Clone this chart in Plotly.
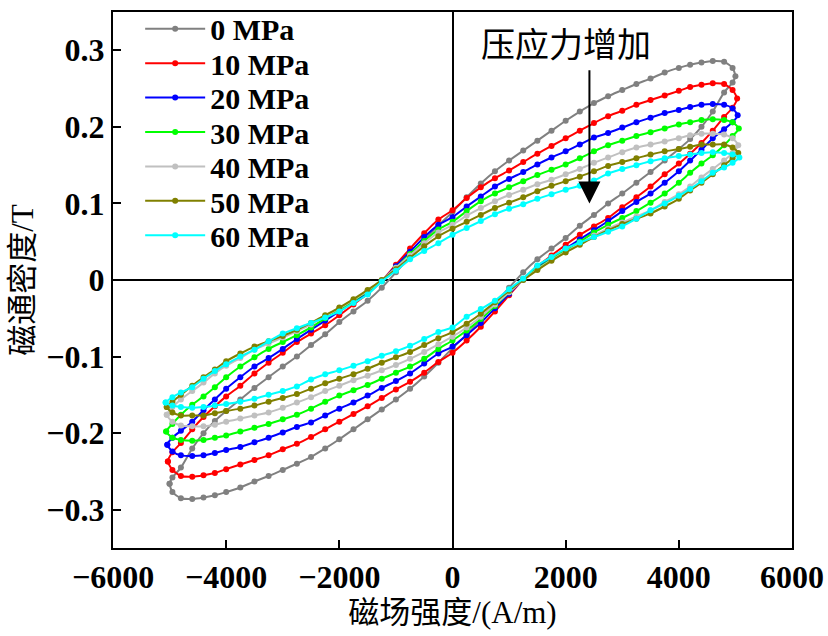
import plotly.graph_objects as go

# Field grid (A/m), shared by all loops (ascending)
H_grid = [-4950, -4800, -4600, -4400, -4200, -4000, -3750, -3500, -3250, -3000, -2750,
          -2500, -2250, -2000, -1750, -1500, -1250, -1000, -750, -500, -250, 0,
          250, 500, 750, 1000, 1250, 1500, 1750, 2000, 2250, 2500, 2750, 3000,
          3250, 3500, 3750, 4000, 4200, 4400, 4600, 4800, 4950]

labels = ["0 MPa", "10 MPa", "20 MPa", "30 MPa", "40 MPa", "50 MPa", "60 MPa"]
colors = ["#808080", "#FF0000", "#0000FF", "#00FF00", "#C0C0C0", "#808000", "#00FFFF"]

# tip field (A/m) and tip flux density (T) of each loop
H_tip = [5000, 5030, 5040, 5060, 5050, 5050, 5070]
B_tip = [0.266, 0.237, 0.215, 0.198, 0.176, 0.166, 0.160]

# lower (ascending-field) branch, on H_grid
B_lower_0 = [-0.277, -0.285, -0.286, -0.284, -0.281, -0.277, -0.271, -0.263, -0.256, -0.248, -0.240,
             -0.231, -0.220, -0.208, -0.195, -0.182, -0.169, -0.156, -0.142, -0.126, -0.108,
             -0.089, -0.071, -0.052, -0.031, -0.010, 0.010, 0.027, 0.041, 0.055, 0.071, 0.085,
             0.100, 0.113, 0.127, 0.141, 0.156, 0.171, 0.184, 0.200, 0.220, 0.245, 0.258]
B_lower_10 = [-0.248, -0.256, -0.257, -0.255, -0.252, -0.247, -0.241, -0.235, -0.229, -0.221, -0.214,
              -0.205, -0.195, -0.185, -0.175, -0.165, -0.154, -0.143, -0.133, -0.121, -0.107,
              -0.095, -0.079, -0.061, -0.041, -0.020, 0.001, 0.018, 0.032, 0.046, 0.059, 0.070,
              0.081, 0.095, 0.108, 0.122, 0.138, 0.152, 0.165, 0.179, 0.195, 0.213, 0.225]
B_lower_20 = [-0.224, -0.229, -0.230, -0.229, -0.226, -0.222, -0.218, -0.212, -0.206, -0.199, -0.192,
              -0.186, -0.177, -0.168, -0.160, -0.151, -0.141, -0.132, -0.122, -0.109, -0.096,
              -0.087, -0.072, -0.056, -0.037, -0.018, 0.001, 0.016, 0.029, 0.041, 0.053, 0.065,
              0.077, 0.090, 0.102, 0.113, 0.127, 0.142, 0.156, 0.170, 0.185, 0.197, 0.206]
B_lower_30 = [-0.206, -0.209, -0.210, -0.209, -0.206, -0.203, -0.198, -0.193, -0.188, -0.182, -0.176,
              -0.168, -0.159, -0.151, -0.144, -0.137, -0.129, -0.121, -0.113, -0.103, -0.090,
              -0.079, -0.066, -0.051, -0.034, -0.016, 0.001, 0.015, 0.027, 0.039, 0.050, 0.062,
              0.072, 0.081, 0.090, 0.101, 0.113, 0.127, 0.140, 0.152, 0.163, 0.176, 0.188]
B_lower_40 = [-0.185, -0.190, -0.191, -0.191, -0.189, -0.185, -0.181, -0.177, -0.173, -0.167, -0.160,
              -0.153, -0.145, -0.138, -0.131, -0.125, -0.118, -0.111, -0.103, -0.094, -0.084,
              -0.074, -0.062, -0.048, -0.032, -0.016, 0.000, 0.014, 0.026, 0.037, 0.047, 0.058,
              0.067, 0.075, 0.083, 0.091, 0.102, 0.112, 0.122, 0.134, 0.145, 0.156, 0.166]
B_lower_50 = [-0.173, -0.177, -0.177, -0.177, -0.174, -0.171, -0.168, -0.164, -0.159, -0.154, -0.149,
              -0.142, -0.135, -0.129, -0.123, -0.116, -0.108, -0.101, -0.094, -0.085, -0.076,
              -0.068, -0.057, -0.044, -0.029, -0.014, 0.000, 0.013, 0.025, 0.036, 0.046, 0.056,
              0.065, 0.073, 0.080, 0.087, 0.096, 0.106, 0.117, 0.127, 0.138, 0.150, 0.159]
B_lower_60 = [-0.164, -0.166, -0.167, -0.166, -0.164, -0.162, -0.159, -0.155, -0.150, -0.145, -0.139,
              -0.130, -0.123, -0.118, -0.112, -0.106, -0.099, -0.093, -0.086, -0.077, -0.068,
              -0.062, -0.048, -0.038, -0.027, -0.012, 0.002, 0.019, 0.030, 0.041, 0.049, 0.056,
              0.063, 0.070, 0.080, 0.091, 0.100, 0.110, 0.119, 0.129, 0.140, 0.147, 0.153]

# upper (descending-field) branch, on H_grid
B_upper_0 = [-0.258, -0.245, -0.220, -0.200, -0.184, -0.171, -0.156, -0.141, -0.127, -0.113, -0.100,
             -0.085, -0.071, -0.055, -0.041, -0.027, -0.010, 0.010, 0.031, 0.052, 0.071,
             0.089, 0.108, 0.126, 0.142, 0.156, 0.169, 0.182, 0.195, 0.208, 0.220, 0.231,
             0.240, 0.248, 0.256, 0.263, 0.271, 0.277, 0.281, 0.284, 0.286, 0.285, 0.277]
B_upper_10 = [-0.225, -0.213, -0.195, -0.179, -0.165, -0.152, -0.138, -0.122, -0.108, -0.095, -0.081,
              -0.070, -0.059, -0.046, -0.032, -0.018, -0.001, 0.020, 0.041, 0.061, 0.079,
              0.091, 0.107, 0.121, 0.133, 0.143, 0.154, 0.165, 0.175, 0.185, 0.195, 0.205,
              0.214, 0.221, 0.229, 0.235, 0.241, 0.247, 0.252, 0.255, 0.257, 0.256, 0.248]
B_upper_20 = [-0.206, -0.197, -0.185, -0.170, -0.156, -0.142, -0.127, -0.113, -0.102, -0.090, -0.077,
              -0.065, -0.053, -0.041, -0.029, -0.016, -0.001, 0.018, 0.037, 0.056, 0.072,
              0.082, 0.096, 0.109, 0.122, 0.132, 0.141, 0.151, 0.160, 0.168, 0.177, 0.186,
              0.192, 0.199, 0.206, 0.212, 0.218, 0.222, 0.226, 0.229, 0.230, 0.229, 0.224]
B_upper_30 = [-0.188, -0.176, -0.163, -0.152, -0.140, -0.127, -0.113, -0.101, -0.090, -0.081, -0.072,
              -0.062, -0.050, -0.039, -0.027, -0.015, -0.001, 0.016, 0.034, 0.051, 0.066,
              0.076, 0.090, 0.103, 0.113, 0.121, 0.129, 0.137, 0.144, 0.151, 0.159, 0.168,
              0.176, 0.182, 0.188, 0.193, 0.198, 0.203, 0.206, 0.209, 0.210, 0.209, 0.206]
B_upper_40 = [-0.166, -0.156, -0.145, -0.134, -0.122, -0.112, -0.102, -0.091, -0.083, -0.075, -0.067,
              -0.058, -0.047, -0.037, -0.026, -0.014, 0.000, 0.016, 0.032, 0.048, 0.062,
              0.072, 0.084, 0.094, 0.103, 0.111, 0.118, 0.125, 0.131, 0.138, 0.145, 0.153,
              0.160, 0.167, 0.173, 0.177, 0.181, 0.185, 0.189, 0.191, 0.191, 0.190, 0.185]
B_upper_50 = [-0.159, -0.150, -0.138, -0.127, -0.117, -0.106, -0.096, -0.087, -0.080, -0.073, -0.065,
              -0.056, -0.046, -0.036, -0.025, -0.013, 0.000, 0.014, 0.029, 0.044, 0.057,
              0.067, 0.076, 0.085, 0.094, 0.101, 0.108, 0.116, 0.123, 0.129, 0.135, 0.142,
              0.149, 0.154, 0.159, 0.164, 0.168, 0.171, 0.174, 0.177, 0.177, 0.177, 0.173]
B_upper_60 = [-0.153, -0.147, -0.140, -0.129, -0.119, -0.110, -0.100, -0.091, -0.080, -0.070, -0.063,
              -0.056, -0.049, -0.041, -0.030, -0.019, -0.002, 0.012, 0.027, 0.038, 0.048,
              0.059, 0.068, 0.077, 0.086, 0.093, 0.099, 0.106, 0.112, 0.118, 0.123, 0.130,
              0.139, 0.145, 0.150, 0.155, 0.159, 0.162, 0.164, 0.166, 0.167, 0.166, 0.164]

B_lower = [B_lower_0, B_lower_10, B_lower_20, B_lower_30, B_lower_40, B_lower_50, B_lower_60]
B_upper = [B_upper_0, B_upper_10, B_upper_20, B_upper_30, B_upper_40, B_upper_50, B_upper_60]

x_tickvals = [-6000, -4000, -2000, 0, 2000, 4000, 6000]
y_tickvals = [-0.3, -0.2, -0.1, 0, 0.1, 0.2, 0.3]
y_ticktext = ["\u22120.3", "\u22120.2", "\u22120.1", "0", "0.1", "0.2", "0.3"]

x_title = "磁场强度/(A/m)"
y_title = "磁通密度/T"
note_text = "压应力增加"

FONT = "Liberation Serif, Times New Roman, Noto Sans CJK SC, serif"

W, H = 828, 636
ML, MR, MT, MB = 113, 36, 3, 88
plot_h = H - MT - MB

fig = go.Figure()
legend_layouts = {}
for i in range(len(labels)):
    ht, bt = H_tip[i], B_tip[i]
    xs = [-ht] + H_grid + [ht] + H_grid[::-1] + [-ht]
    ys = [-bt] + B_lower[i] + [bt] + B_upper[i][::-1] + [-bt]
    lname = "legend" if i == 0 else "legend%d" % (i + 1)
    fig.add_trace(go.Scatter(
        x=xs, y=ys, mode="lines+markers", name=labels[i], legend=lname,
        line=dict(color=colors[i], width=2, shape="spline", smoothing=0.6),
        marker=dict(color=colors[i], size=6, symbol="circle"),
    ))
    yc = 20 + 35 * i  # legend row centre (px from top)
    legend_layouts[lname] = dict(
        x=0.040, y=1 - (yc - MT) / plot_h, xanchor="left", yanchor="middle",
        bgcolor="rgba(0,0,0,0)", itemwidth=60,
        font=dict(family=FONT, size=30, color="black", weight="bold"),
    )

fig.add_annotation(x=2000, y=0.306, xref="x", yref="y", text=note_text, showarrow=False,
                   font=dict(family=FONT, size=34, color="black"))
fig.add_annotation(x=2420, y=0.100, ax=2420, ay=0.276, xref="x", yref="y", axref="x", ayref="y",
                   text=" ", font=dict(size=2), borderpad=0, showarrow=True,
                   arrowhead=2, arrowsize=2.2, arrowwidth=2, arrowcolor="black")

axis_common = dict(showline=True, linecolor="black", linewidth=2, mirror=True,
                   ticks="inside", ticklen=8, tickwidth=2, tickcolor="black",
                   showgrid=False, zeroline=True, zerolinecolor="black", zerolinewidth=2,
                   automargin=False,
                   tickfont=dict(family=FONT, size=32, color="black", weight="bold"))

fig.update_layout(
    width=W, height=H,
    margin=dict(l=ML, r=MR, t=MT, b=MB),
    paper_bgcolor="white", plot_bgcolor="white",
    font=dict(family=FONT, color="black"),
    xaxis=dict(range=[-6000, 6000], tickvals=x_tickvals,
               title=dict(text=x_title, font=dict(family=FONT, size=31), standoff=6),
               **axis_common),
    yaxis=dict(range=[-0.35, 0.35], tickvals=y_tickvals, ticktext=y_ticktext,
               title=dict(text=y_title, font=dict(family=FONT, size=31), standoff=4),
               **axis_common),
    showlegend=True,
    **legend_layouts,
)

fig.write_html("out.html", config={"displayModeBar": False},
               post_script="document.body.style.margin='0px';document.body.style.padding='0px';")
